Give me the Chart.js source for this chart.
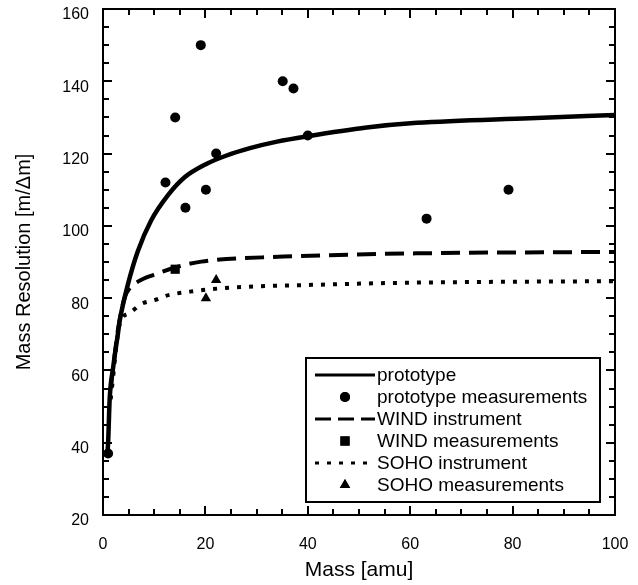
<!DOCTYPE html>
<html>
<head>
<meta charset="utf-8">
<script src="https://cdn.jsdelivr.net/npm/chart.js@4.4.0/dist/chart.umd.min.js"></script>
<style>
  html, body { margin: 0; padding: 0; background: #fff; }
  #wrap { width: 638px; height: 585px; position: relative; }
</style>
</head>
<body>
<div id="wrap"><canvas id="chart"></canvas></div>
<script>
// curves (mass in amu, resolution m/dm)
const protoMass = [0.8, 1.0, 1.3, 2.0, 2.9, 3.3, 4.9, 6.8, 9.4, 12.7, 16, 20, 24, 28.7, 34, 40, 51.5, 61.3, 83.4, 100];
const protoRes = [36, 40, 52, 61, 70, 74, 84, 93, 101.5, 108.5, 113.5, 117, 119.4, 121.5, 123.3, 124.8, 127.2, 128.5, 129.8, 130.7];

const windMass = [1.5, 3.0, 4.3, 5.2, 7.0, 9.8, 14.6, 19.2, 35.2, 44.3, 61.3, 100];
const windRes = [55, 72, 80.4, 82.7, 84.7, 86.4, 88.7, 90.1, 91.5, 91.9, 92.4, 92.8];

const sohoMass = [1.5, 3.3, 5.2, 7.5, 10.2, 12.4, 17, 22.9, 44.3, 61.3, 100];
const sohoRes = [52, 73, 75.9, 78.4, 79.5, 80.7, 81.8, 82.7, 83.8, 84.3, 84.7];

// measurements
const protoMeasMass = [1.0, 12.2, 14.1, 16.1, 19.1, 20.1, 22.1, 35.1, 37.2, 40, 63.2, 79.2];
const protoMeasRes = [37, 112, 130, 105, 150, 110, 120, 140, 138, 125, 102, 110];
const windMeasMass = [14.1];
const windMeasRes = [88];
const sohoMeasMass = [20.1, 22.1];
const sohoMeasRes = [80, 85];

const xTicks = [0, 20, 40, 60, 80, 100];
const yTicks = [20, 40, 60, 80, 100, 120, 140, 160];

const toPts = (xs, ys) => xs.map((x, i) => ({ x: x, y: ys[i] }));

const lineSet = (label, xs, ys, dash, width) => ({
  label: label,
  data: toPts(xs, ys),
  showLine: true,
  borderColor: "#000",
  backgroundColor: "#000",
  borderWidth: width,
  borderDash: dash,
  borderCapStyle: "butt",
  cubicInterpolationMode: "monotone",
  pointRadius: 0,
  fill: false,
});

const markSet = (label, xs, ys, style, r) => ({
  label: label,
  data: toPts(xs, ys),
  showLine: false,
  pointStyle: style,
  pointRadius: r,
  pointBorderWidth: 0,
  pointBackgroundColor: "#000",
  pointBorderColor: "#000",
});

const FONT = "'Liberation Sans', Arial, Helvetica, sans-serif";

// no extra room for edge labels, the plot box is fixed by the layout padding
const noEdgePad = (s) => {
  s.paddingLeft = 0; s.paddingRight = 0; s.paddingTop = 0; s.paddingBottom = 0;
};

// ticks pointing inward on all four sides + the frame
const frameTicks = {
  id: "frameTicks",
  afterDraw(chart) {
    const ctx = chart.ctx;
    const a = chart.chartArea;
    const xs = chart.scales.x, ys = chart.scales.y;
    ctx.save();
    ctx.strokeStyle = "#000";
    ctx.lineWidth = 2;
    for (let v = 0; v <= 100; v += 5) {
      const px = Math.round(xs.getPixelForValue(v));
      const len = v % 20 === 0 ? 9 : 6;
      ctx.beginPath();
      ctx.moveTo(px, a.bottom); ctx.lineTo(px, a.bottom - len);
      ctx.moveTo(px, a.top); ctx.lineTo(px, a.top + len);
      ctx.stroke();
    }
    for (let v = 20; v <= 160; v += 5) {
      const py = Math.round(ys.getPixelForValue(v));
      const len = v % 20 === 0 ? 9 : 6;
      ctx.beginPath();
      ctx.moveTo(a.left, py); ctx.lineTo(a.left + len, py);
      ctx.moveTo(a.right, py); ctx.lineTo(a.right - len, py);
      ctx.stroke();
    }
    ctx.strokeRect(a.left, a.top, a.right - a.left, a.bottom - a.top);
    ctx.restore();
  },
};

// boxed legend in the lower right of the plot
const boxLegend = {
  id: "boxLegend",
  afterDraw(chart) {
    const ctx = chart.ctx;
    const a = chart.chartArea;
    const left = a.left + 203, top = a.top + 349, w = 294, h = 144;
    ctx.save();
    ctx.fillStyle = "#fff";
    ctx.fillRect(left, top, w, h);
    ctx.strokeStyle = "#000";
    ctx.lineWidth = 2;
    ctx.strokeRect(left, top, w, h);
    ctx.font = "19px " + FONT;
    ctx.textBaseline = "middle";
    ctx.fillStyle = "#000";
    chart.data.datasets.forEach((ds, i) => {
      const y = top + 17 + i * 22;
      if (ds.showLine) {
        ctx.save();
        ctx.lineWidth = 3;
        ctx.setLineDash(ds.borderDash && ds.borderDash.length ? (ds.borderDash[0] > 6 ? [16, 7] : [4, 8]) : []);
        ctx.beginPath();
        ctx.moveTo(left + 9, y);
        ctx.lineTo(left + 69, y);
        ctx.stroke();
        ctx.restore();
      } else {
        Chart.helpers.drawPoint(ctx, {
          pointStyle: ds.pointStyle,
          radius: ds.pointRadius,
          borderWidth: 0,
        }, left + 39, y);
        ctx.fill();
      }
      ctx.fillText(ds.label, left + 71, y + 1);
    });
    ctx.restore();
  },
};

new Chart(document.getElementById("chart"), {
  type: "scatter",
  data: {
    datasets: [
      lineSet("prototype", protoMass, protoRes, [], 4.5),
      markSet("prototype measurements", protoMeasMass, protoMeasRes, "circle", 5),
      lineSet("WIND instrument", windMass, windRes, [19, 9], 4),
      markSet("WIND measurements", windMeasMass, windMeasRes, "rect", 6.5),
      lineSet("SOHO instrument", sohoMass, sohoRes, [4, 8], 4),
      markSet("SOHO measurements", sohoMeasMass, sohoMeasRes, "triangle", 6),
    ],
  },
  options: {
    responsive: true,
    maintainAspectRatio: false,
    animation: false,
    layout: { padding: { left: 0, right: 23, top: 9, bottom: 0 } },
    plugins: {
      legend: { display: false },
      tooltip: { enabled: false },
    },
    scales: {
      x: {
        type: "linear",
        min: 0,
        max: 100,
        afterBuildTicks: (s) => { s.ticks = xTicks.map((v) => ({ value: v })); },
        afterFit: (s) => { s.height = 70; noEdgePad(s); },
        grid: { display: false, drawTicks: false },
        border: { display: false },
        ticks: { color: "#000", padding: 20, font: { family: FONT, size: 16 }, maxRotation: 0 },
        title: {
          display: true,
          text: "Mass [amu]",
          color: "#000",
          font: { family: FONT, size: 21 },
          padding: { top: 0, bottom: 2 },
        },
      },
      y: {
        type: "linear",
        min: 20,
        max: 160,
        afterBuildTicks: (s) => { s.ticks = yTicks.map((v) => ({ value: v })); },
        afterFit: (s) => { s.width = 103; noEdgePad(s); },
        grid: { display: false, drawTicks: false },
        border: { display: false },
        ticks: { color: "#000", padding: 14, labelOffset: 6, font: { family: FONT, size: 16 } },
        title: {
          display: true,
          text: "Mass Resolution [m/\u0394m]",
          color: "#000",
          font: { family: FONT, size: 20 },
          padding: { top: 12, bottom: 0 },
        },
      },
    },
  },
  plugins: [frameTicks, boxLegend],
});
</script>
</body>
</html>
